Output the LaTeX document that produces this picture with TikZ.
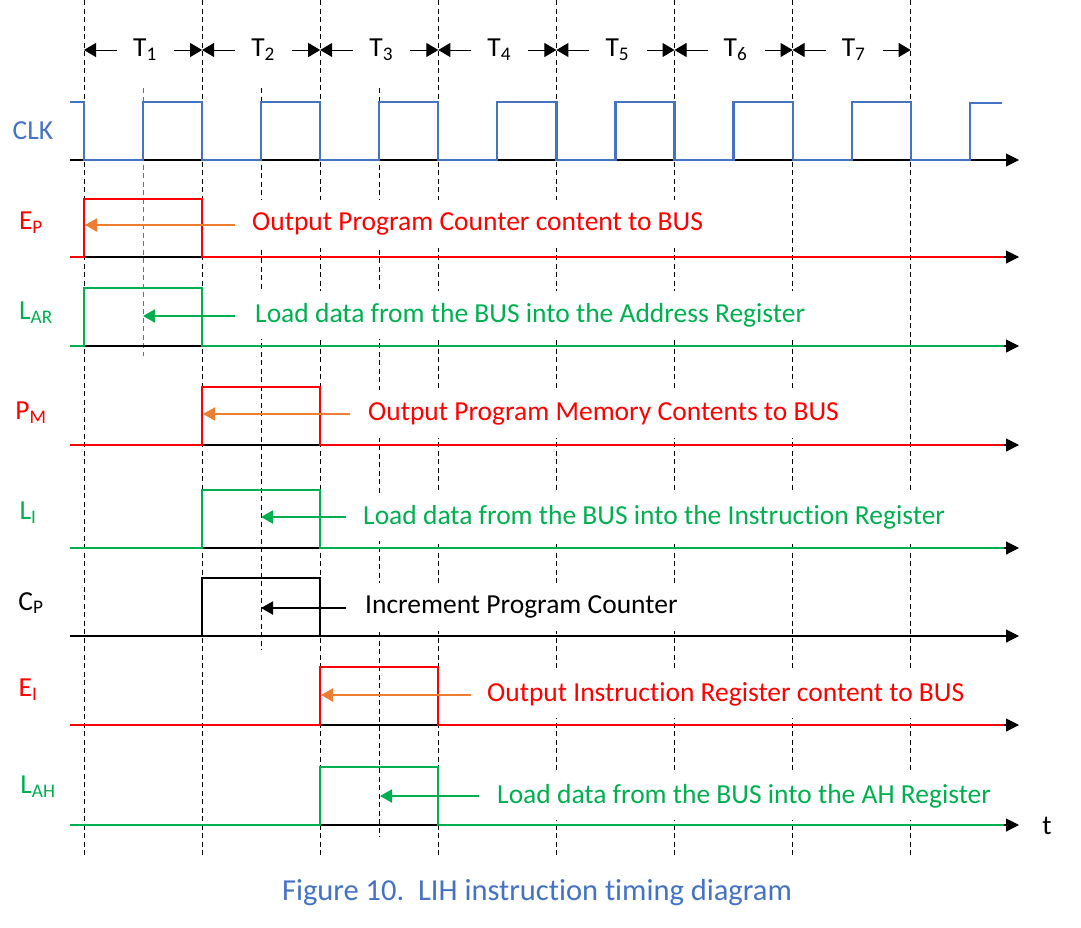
\documentclass[tikz,border=0pt]{standalone}
\usepackage{fontspec}
\setmainfont{Carlito}[Ligatures=NoCommon]
\usetikzlibrary{arrows.meta}
\definecolor{clkblue}{HTML}{4472C4}
\definecolor{sigred}{HTML}{FF0000}
\definecolor{siggreen}{HTML}{00B050}
\definecolor{sigorange}{HTML}{ED7D31}
\begin{document}
\begin{tikzpicture}[x=1pt, y=-1pt,
    gridline/.style={line width=0.8pt, dash pattern=on 5pt off 3.5pt},
    timeaxis/.style={line width=1.1pt, -{Triangle[length=13pt,width=13pt]}},
    signal/.style={line width=2.2pt},
    hint/.style={line width=2pt, -{Triangle[length=12pt,width=13pt]}},
    span/.style={line width=1pt, -{Triangle[length=12pt,width=14pt]}},
    lbl/.style={font=\fontsize{27.5}{30}\selectfont, inner sep=0pt},
    note/.style={lbl, anchor=west, fill=white, inner xsep=4pt, minimum height=48pt}]
    \def \t {118.1};
    \useasboundingbox ( 0, 0 ) rectangle ( 1081, 927 );

    % clock edges
    \foreach \i in {0,...,7}
        \draw [gridline] ( {84+\t*\i}, 0 ) -- ( {84+\t*\i}, 855 );
    \draw [gridline, clkblue] ( 143, 88 ) -- ( 143, 356 );
    \draw [gridline] ( 261, 88 ) -- ( 261, 650 );
    \draw [gridline] ( 379.5, 88 ) -- ( 379.5, 837 );

    % states T1..T7
    \foreach \i in {1,...,7} {
        \pgfmathsetmacro \xa {84+\t*(\i-1)}
        \pgfmathsetmacro \xb {84+\t*\i}
        \draw [span] ( \xa+33, 50 ) -- ( \xa, 50 );
        \draw [span] ( \xb-28, 50 ) -- ( \xb, 50 );
        \node [lbl] (T\i) at ( \xa+61, 50 ) {T\textsubscript{\i}};
    }

    % time axes
    \foreach \y in {160, 257, 346, 445, 548, 636, 725, 825}
        \draw [timeaxis] ( 70, \y ) -- ( 1019, \y );
    \node [lbl] (t) at ( 1047, 826 ) {t};

    % CLK
    \draw [signal, clkblue] ( 70, 102 ) -- ( 84, 102 ) -- ( 84, 160 )
        \foreach \k in {0,...,6} {
            -- ( {143+\t*\k}, 160 ) -- ( {143+\t*\k}, 102 )
            -- ( {202.1+\t*\k}, 102 ) -- ( {202.1+\t*\k}, 160 )
        } -- ( 970, 160 ) -- ( 970, 103 ) -- ( 1002, 103 );
    \node [lbl, clkblue] (clk) at ( 33, 131 ) {CLK};

    % control signals
    \newcommand \pulse [4] {
        \draw [signal, #1] ( 70, #2 ) -- ( #3, #2 ) -- ( #3, #2-58 )
            -- ( #4, #2-58 ) -- ( #4, #2 ) -- ( 1004, #2 );
    }
    \pulse {sigred} {257} {84} {202.1}
    \pulse {siggreen} {346} {84} {202.1}
    \pulse {sigred} {445} {202.1} {320.2}
    \pulse {siggreen} {548} {202.1} {320.2}
    \pulse {black} {636} {202.1} {320.2}
    \pulse {sigred} {725} {320.2} {438.3}
    \pulse {siggreen} {825} {320.2} {438.3}

    \node [lbl, sigred] (ep) at ( 31, 223 ) {E\textsubscript{P}};
    \node [lbl, siggreen] (lar) at ( 36, 313 ) {L\textsubscript{AR}};
    \node [lbl, sigred] (pm) at ( 31, 413 ) {P\textsubscript{M}};
    \node [lbl, siggreen] (li) at ( 28, 513 ) {L\textsubscript{I}};
    \node [lbl] (cp) at ( 31, 603 ) {C\textsubscript{P}};
    \node [lbl, sigred] (ei) at ( 28, 690 ) {E\textsubscript{I}};
    \node [lbl, siggreen] (lah) at ( 38, 787 ) {L\textsubscript{AH}};

    % what each signal does
    \node [note, text=sigred] (epnote) at ( 248, 224 ) {Output Program Counter content to BUS};
    \node [note, text=siggreen] (larnote) at ( 251, 315 ) {Load data from the BUS into the Address Register};
    \node [note, text=sigred] (pmnote) at ( 364, 414 ) {Output Program Memory Contents to BUS};
    \node [note, text=siggreen] (linote) at ( 359, 517 ) {Load data from the BUS into the Instruction Register};
    \node [note] (cpnote) at ( 361, 607 ) {Increment Program Counter};
    \node [note, text=sigred] (einote) at ( 483, 694 ) {Output Instruction Register content to BUS};
    \node [note, text=siggreen] (lahnote) at ( 493, 796 ) {Load data from the BUS into the AH Register};

    \draw [hint, sigorange] ( 235, 225 ) -- ( 85, 225 );
    \draw [hint, siggreen] ( 235, 316 ) -- ( 143, 316 );
    \draw [hint, sigorange] ( 350, 414 ) -- ( 203, 414 );
    \draw [hint, siggreen] ( 346, 517 ) -- ( 261, 517 );
    \draw [hint, black] ( 346, 608 ) -- ( 261, 608 );
    \draw [hint, sigorange] ( 471, 695 ) -- ( 321, 695 );
    \draw [hint, siggreen] ( 479, 796 ) -- ( 380, 796 );

    \node [lbl, clkblue, font=\fontsize{30.5}{33}\selectfont] (caption) at ( 537, 893 ) {Figure 10.\ \ LIH instruction timing diagram};
\end{tikzpicture}
\end{document}
